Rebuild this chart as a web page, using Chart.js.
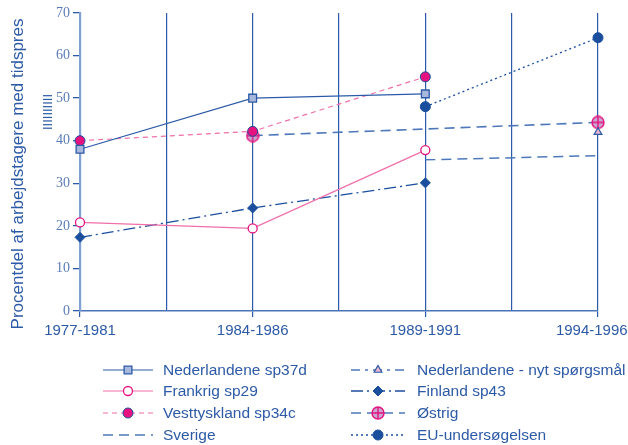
<!DOCTYPE html>
<html>
<head>
<meta charset="utf-8">
<script src="https://cdn.jsdelivr.net/npm/chart.js@4/dist/chart.umd.min.js"></script>
<style>
  html, body { margin: 0; padding: 0; background: #fff; }
  #wrap { width: 628px; height: 445px; }
</style>
</head>
<body>
<div id="wrap"><canvas id="chart" width="628" height="445"></canvas></div>
<script>
const periods = ["1977-1981", "1984-1986", "1989-1991", "1994-1996"];
const yTicks = [0, 10, 20, 30, 40, 50, 60, 70];
const yTitle = "Procentdel af arbejdstagere med tidspres";

const nlSp37d = [38, 50, 51, null];
const frSp29 = [20.8, 19.4, 37.8, null];
const deSp34c = [40, 42.2, 55, null];
const sverige = [null, null, 35.5, 36.5];
const nlNyt = [null, null, null, 42];
const fiSp43 = [17.3, 24.2, 30.1, null];
const oestrig = [null, 41.2, null, 44.3];
const euSurvey = [null, null, 48, 64.2];

const BLUE = "#2c5aa8";
const DARK = "#1b4f9e";
const PINK = "#f06ea9";
const MAGENTA = "#e5127f";
const TEXT = "#2d5aa6";
const SANS = "'Liberation Sans', Arial, sans-serif";

function toPoints(values) {
  return values.map((v, i) => ({ x: i, y: v }));
}

// circle with a cross inside, used for Østrig
function crossCircle(r) {
  const c = document.createElement("canvas");
  c.width = c.height = r * 2 + 2;
  const ctx = c.getContext("2d");
  const m = r + 1;
  ctx.beginPath();
  ctx.arc(m, m, r, 0, Math.PI * 2);
  ctx.fillStyle = "#c7a6d0";
  ctx.fill();
  ctx.lineWidth = 1.4;
  ctx.strokeStyle = MAGENTA;
  ctx.stroke();
  ctx.beginPath();
  ctx.moveTo(m - r, m); ctx.lineTo(m + r, m);
  ctx.moveTo(m, m - r); ctx.lineTo(m, m + r);
  ctx.stroke();
  return c;
}
const crossImg = crossCircle(6);

const datasets = [
  { label: "Nederlandene sp37d", data: toPoints(nlSp37d), borderColor: BLUE, borderWidth: 1.2, borderDash: [],
    pointStyle: "rect", pointRadius: 5.5, pointBackgroundColor: "#a8b8dc", pointBorderColor: BLUE, pointBorderWidth: 1.3, col: 0, row: 0 },
  { label: "Frankrig sp29", data: toPoints(frSp29), borderColor: PINK, borderWidth: 1.2, borderDash: [],
    pointStyle: "circle", pointRadius: 4.5, pointBackgroundColor: "#fff", pointBorderColor: MAGENTA, pointBorderWidth: 1.3, col: 0, row: 1 },
  { label: "Vesttyskland sp34c", data: toPoints(deSp34c), borderColor: PINK, borderWidth: 1.2, borderDash: [5, 4],
    pointStyle: "circle", pointRadius: 5, pointBackgroundColor: MAGENTA, pointBorderColor: DARK, pointBorderWidth: 1, col: 0, row: 2 },
  { label: "Sverige", data: toPoints(sverige), borderColor: "#4e78bb", borderWidth: 1.5, borderDash: [10, 6],
    pointStyle: "circle", pointRadius: 0, col: 0, row: 3 },
  { label: "Nederlandene - nyt spørgsmål", data: toPoints(nlNyt), borderColor: "#4e78bb", borderWidth: 1.3, borderDash: [9, 5, 3, 5],
    pointStyle: "triangle", pointRadius: 4.5, pointBackgroundColor: "#e9b5cf", pointBorderColor: BLUE, pointBorderWidth: 1.2, col: 1, row: 0 },
  { label: "Finland sp43", data: toPoints(fiSp43), borderColor: DARK, borderWidth: 1.3, borderDash: [12, 4, 2, 4],
    pointStyle: "rectRot", pointRadius: 5, pointBackgroundColor: DARK, pointBorderColor: DARK, pointBorderWidth: 1, col: 1, row: 1 },
  { label: "Østrig", data: toPoints(oestrig), borderColor: "#4e78bb", borderWidth: 1.6, borderDash: [10, 6],
    pointStyle: crossImg, pointRadius: 6, col: 1, row: 2 },
  { label: "EU-undersøgelsen", data: toPoints(euSurvey), borderColor: DARK, borderWidth: 1.3, borderDash: [2, 3],
    pointStyle: "circle", pointRadius: 5, pointBackgroundColor: DARK, pointBorderColor: DARK, pointBorderWidth: 1, col: 1, row: 3 }
];
datasets.forEach(ds => { ds.spanGaps = true; ds.tension = 0; ds.fill = false; ds.clip = false; ds.pointHoverRadius = ds.pointRadius; });

const extrasPlugin = {
  id: "extras",
  afterDraw(chart) {
    const ctx = chart.ctx;
    const cols = [{ x0: 103, x1: 153, tx: 163 }, { x0: 351, x1: 405, tx: 417 }];
    const rows = [370, 391, 413, 435];
    ctx.save();
    chart.data.datasets.forEach(ds => {
      const c = cols[ds.col];
      const y = rows[ds.row];
      ctx.beginPath();
      ctx.setLineDash(ds.borderDash || []);
      ctx.strokeStyle = ds.borderColor;
      ctx.lineWidth = ds.borderWidth;
      ctx.moveTo(c.x0, y);
      ctx.lineTo(c.x1, y);
      ctx.stroke();
      ctx.setLineDash([]);
      if (ds.pointRadius > 0) {
        const mx = (c.x0 + c.x1) / 2;
        if (typeof ds.pointStyle !== "string") {
          const s = ds.pointStyle;
          ctx.drawImage(s, mx - s.width / 2, y - s.height / 2);
        } else {
          ctx.fillStyle = ds.pointBackgroundColor;
          ctx.strokeStyle = ds.pointBorderColor;
          ctx.lineWidth = ds.pointBorderWidth;
          Chart.helpers.drawPoint(ctx, {
            pointStyle: ds.pointStyle, radius: ds.pointRadius, rotation: 0,
            borderWidth: ds.pointBorderWidth
          }, mx, y);
        }
      }
      ctx.fillStyle = TEXT;
      ctx.font = "15.5px " + SANS;
      ctx.textBaseline = "middle";
      ctx.textAlign = "left";
      ctx.fillText(ds.label, c.tx, y + 1);
    });

    // y axis title
    ctx.save();
    ctx.translate(18, 174);
    ctx.rotate(-Math.PI / 2);
    ctx.font = "17px " + SANS;
    ctx.fillStyle = TEXT;
    ctx.textAlign = "center";
    ctx.textBaseline = "middle";
    ctx.fillText(yTitle, 0, 0);
    ctx.restore();

    // small stray marks next to the y axis
    ctx.translate(48, 112);
    ctx.rotate(-Math.PI / 2);
    ctx.font = "13px " + SANS;
    ctx.fillStyle = TEXT;
    ctx.textAlign = "center";
    ctx.textBaseline = "middle";
    ctx.fillText("IIIIIIIIII", 0, 0);
    ctx.restore();
  }
};

new Chart(document.getElementById("chart"), {
  type: "line",
  data: { datasets },
  options: {
    responsive: false,
    animation: false,
    layout: { padding: { top: 13, right: 0, bottom: 100, left: 0 } },
    plugins: { legend: { display: false }, tooltip: { enabled: false } },
    scales: {
      x: {
        type: "linear",
        min: 0,
        max: 3,
        afterFit: axis => { axis.paddingLeft = 0; axis.paddingRight = 30; },
        ticks: {
          stepSize: 0.5,
          autoSkip: false,
          maxRotation: 0,
          padding: 5,
          color: TEXT,
          font: { family: SANS, size: 15 },
          // last label is nudged left so it stays inside the page
          callback: v => Number.isInteger(v) ? periods[v] + (v === periods.length - 1 ? "   " : "") : ""
        },
        grid: {
          color: BLUE,
          lineWidth: 1.2,
          tickLength: 6,
          tickColor: ctx => Number.isInteger(ctx.tick && ctx.tick.value) ? BLUE : "rgba(0,0,0,0)"
        },
        border: { color: "#4a74b8", width: 1.5 }
      },
      y: {
        min: 0,
        max: 70,
        afterBuildTicks: axis => { axis.ticks = yTicks.map(v => ({ value: v })); },
        afterFit: axis => { axis.width = 80; axis.paddingTop = 0; axis.paddingBottom = 0; },
        ticks: {
          color: "#5a7cb8",
          padding: 3,
          font: { family: "'Liberation Serif', 'Times New Roman', serif", size: 14 }
        },
        grid: { drawOnChartArea: false, tickLength: 7, tickColor: BLUE, lineWidth: 1.3 },
        border: { color: "#7fa1d3", width: 2.2 }
      }
    }
  },
  plugins: [extrasPlugin]
});
</script>
</body>
</html>
